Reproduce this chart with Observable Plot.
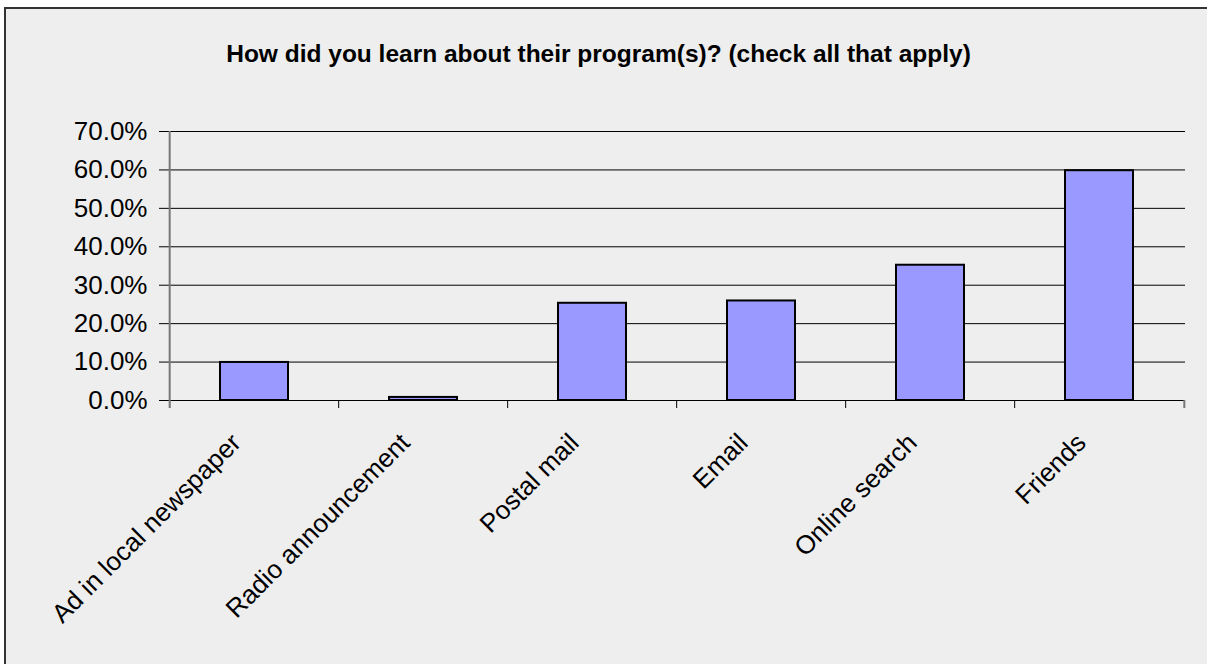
<!DOCTYPE html>
<html>
<head>
<meta charset="utf-8">
<script src="https://cdn.jsdelivr.net/npm/d3@7"></script>
<script src="https://cdn.jsdelivr.net/npm/@observablehq/plot@0.6"></script>
<style>
  html, body { margin: 0; padding: 0; background: #ffffff; }
  body { width: 1207px; height: 664px; overflow: hidden; position: relative; font-family: "Liberation Sans", Arial, sans-serif; }
  #box { position: absolute; left: 4px; top: 7px; width: 1220px; height: 680px; border: 2px solid #333333; background: #eeeeee; box-sizing: border-box; }
  #title { position: absolute; left: 0; top: 39px; width: 1197px; text-align: center; font-weight: bold; font-size: 24.5px; line-height: 30px; color: #000; }
  #chart { position: absolute; left: 0; top: 0; }
  #chart svg { background: transparent; overflow: visible; }
</style>
</head>
<body>
<div id="box"></div>
<div id="title">How did you learn about their program(s)? (check all that apply)</div>
<div id="chart"></div>
<script>
const categories = ["Ad in local newspaper", "Radio announcement", "Postal mail", "Email", "Online search", "Friends"];
const values = [0.099, 0.008, 0.253, 0.259, 0.352, 0.598];
const yTicks = [0, 0.1, 0.2, 0.3, 0.4, 0.5, 0.6, 0.7];

const data = categories.map((c, i) => ({category: c, value: values[i]}));

const W = 1207, H = 664;
const mL = 167, mR = 22, mT = 131, mB = 264;
const step = (W - mL - mR) / categories.length;

const chart = Plot.plot({
  width: W,
  height: H,
  marginLeft: mL,
  marginRight: mR,
  marginTop: mT,
  marginBottom: mB,
  style: {background: "transparent", fontFamily: "'Liberation Sans', Arial, sans-serif", fontSize: "26px", color: "#000"},
  x: {domain: categories, paddingInner: 0.6, paddingOuter: 0.3, label: null},
  y: {domain: [0, 0.7], label: null},
  marks: [
    Plot.ruleY(yTicks.slice(1), {stroke: "#000", strokeWidth: 1}),
    Plot.ruleY([0], {stroke: "#000", strokeWidth: 1}),
    Plot.ruleX(categories, {x: d => d, y1: 0, y2: 0, insetBottom: -8, dx: -step / 2, stroke: "#000", strokeWidth: 1}),
    Plot.ruleX([categories[categories.length - 1]], {x: d => d, y1: 0, y2: 0, insetBottom: -8, dx: step / 2, stroke: "#777", strokeWidth: 2}),
    Plot.ruleX([categories[0]], {x: d => d, y1: 0.7, y2: 0, insetBottom: -8, dx: -step / 2, stroke: "#777", strokeWidth: 2}),
    Plot.barY(data, {x: "category", y: "value", fill: "#9999ff", stroke: "#000", strokeWidth: 2}),
    Plot.axisY({ticks: yTicks, tickFormat: d3.format(".1%"), tickSize: 8, tickPadding: 12, stroke: "#000", fontSize: 26, label: null}),
    Plot.axisX({tickSize: 0, tickRotate: -45, tickPadding: 14, dx: -18, dy: 24, fontSize: 26, label: null})
  ]
});
document.getElementById("chart").appendChild(chart);
</script>
</body>
</html>
